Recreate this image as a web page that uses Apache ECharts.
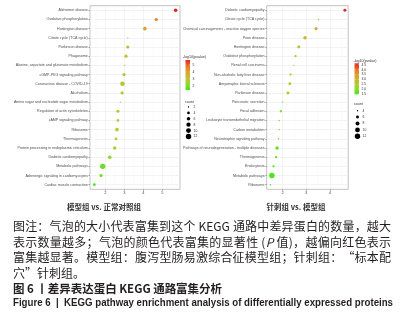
<!DOCTYPE html>
<html><head><meta charset="utf-8">
<script src="https://cdn.jsdelivr.net/npm/echarts@6/dist/echarts.min.js"></script>
<style>html,body{margin:0;padding:0;background:#fff}#c{width:406px;height:319px}</style>
</head><body><div id="c"></div>
<script>
// ---------- data ----------
const leftCategories = ["Alzheimer disease","Oxidative phosphorylation","Huntington disease","Citrate cycle (TCA cycle)","Parkinson disease","Phagosome","Alanine, aspartate and glutamate metabolism","cGMP-PKG signaling pathway","Coronavirus disease - COVID-19","Alcoholism","Amino sugar and nucleotide sugar metabolism","Regulation of actin cytoskeleton","cAMP signaling pathway","Ribosome","Thermogenesis","Protein processing in endoplasmic reticulum","Diabetic cardiomyopathy","Metabolic pathways","Adrenergic signaling in cardiomyocytes","Cardiac muscle contraction"];
const leftLogP = [5.70,4.68,4.08,3.18,3.18,3.09,3.02,2.98,2.90,2.88,2.79,2.66,2.66,2.61,2.56,2.49,2.23,1.86,1.77,1.42];
const leftCounts = [6,5,6,2,5,5,2,5,9,5,2,5,4,6,4,6,6,12,5,4];
const rightCategories = ["Diabetic cardiomyopathy","Citrate cycle (TCA cycle)","Chemical carcinogenesis - reactive oxygen species","Prion disease","Huntington disease","Oxidative phosphorylation","Renal cell carcinoma","Non-alcoholic fatty liver disease","Amyotrophic lateral sclerosis","Parkinson disease","Pancreatic secretion","Focal adhesion","Leukocyte transendothelial migration","Carbon metabolism","Neurotrophin signaling pathway","Pathways of neurodegeneration - multiple diseases","Thermogenesis","Endocytosis","Metabolic pathways","Ribosome"];
const rightLogP = [4.64,3.52,3.42,2.95,2.69,2.55,2.48,2.34,2.31,2.23,2.00,1.93,1.86,1.86,1.83,1.77,1.73,1.62,1.55,1.49];
const rightCounts = [6,4,6,7,6,5,4,5,6,6,4,5,4,4,4,7,5,5,12,4];
const leftXTicks = [2,3,4,5];
const leftXMinor = [1.5,2.5,3.5,4.5,5.5];
const rightXTicks = [2,3,4];
const rightXMinor = [1.5,2.5,3.5,4.5];
const leftColorTicks = [5,4,3,2];
const rightColorTicks = ["4.5","4.0","3.5","3.0","2.5","2.0","1.5"];
const leftCountTicks = [2,4,6,8,10,12];
const rightCountTicks = [4,6,8,10,12];
const leftSubtitle = "模型组 vs. 正常对照组";
const rightSubtitle = "针刺组 vs. 模型组";
const captionLines = [
  "图注：气泡的大小代表富集到这个 KEGG 通路中差异蛋白的数量，越大",
  "表示数量越多；气泡的颜色代表富集的显著性 (P 值)，越偏向红色表示",
  "富集越显著。模型组：腹泻型肠易激综合征模型组；针刺组：“标本配",
  "穴”针刺组。"
];
const figTitleCN = "图 6 丨差异表达蛋白 KEGG 通路富集分析";
const figTitleEN = "Figure 6  |  KEGG pathway enrichment analysis of differentially expressed proteins";
const legendTitleColor = "-log10(pvalue)";
const legendTitleSize = "count";

// ---------- styling ----------
const colorStops = ['#44e61c','#a3d42e','#d2b22f','#e8842b','#e6221f'];
const lab = '#4d4d4d';
function sizeFor(c, cmin, cmax){
  const dmin = 1.4, dmax = 5.4;
  return Math.sqrt(dmin*dmin + (c-cmin)/(cmax-cmin)*(dmax*dmax-dmin*dmin));
}
const lMin = Math.min(...leftLogP), lMax = Math.max(...leftLogP);
const rMin = Math.min(...rightLogP), rMax = Math.max(...rightLogP);
const lcMin = Math.min(...leftCounts), lcMax = Math.max(...leftCounts);
const rcMin = Math.min(...rightCounts), rcMax = Math.max(...rightCounts);

const chart = echarts.init(document.getElementById('c'), null, {renderer:'canvas'});

function xAxes(gridIndex, min, max, ticks, minor){
  return [{
    type:'value', gridIndex, min, max, position:'bottom',
    axisLine:{show:false},
    axisTick:{show:true, length:1.5, lineStyle:{color:'#555', width:0.5}, customValues:ticks},
    axisLabel:{show:true, fontSize:4, color:lab, margin:2, customValues:ticks, fontFamily:'Liberation Sans'},
    splitLine:{show:true, lineStyle:{color:'#ebebeb', width:0.6}}
  },{
    type:'value', gridIndex, min, max, position:'top',
    axisLine:{show:false},
    axisTick:{show:false, customValues:minor},
    axisLabel:{show:false},
    splitLine:{show:true, lineStyle:{color:'#f2f2f2', width:0.4}}
  }];
}
function yAxis(gridIndex, cats){
  return {
    type:'category', gridIndex, data:cats, inverse:true,
    axisLine:{show:false},
    axisTick:{show:true, alignWithLabel:true, length:1.5, lineStyle:{color:'#555', width:0.5}},
    axisLabel:{interval:0, fontSize:3.6, color:lab, margin:2.2, fontFamily:'Liberation Sans'},
    splitLine:{show:true, alignWithLabel:true, lineStyle:{color:'#ebebeb', width:0.6}}
  };
}

// justified text helper (caption)
const mctx = document.createElement('canvas').getContext('2d');
function textRow(str, x0, x1, y, font, justify, extra){
  const tokens = str.match(/[A-Za-z0-9.\-]+|\s+|./g);
  let size = font.size;
  const fontStr = (s) => (font.weight||'normal') + ' ' + s + 'px ' + font.family;
  mctx.font = fontStr(size);
  let widths = tokens.map(t => mctx.measureText(t).width);
  let natural = widths.reduce((a,b)=>a+b,0);
  const gap = justify && tokens.length>1 ? (x1 - x0 - natural)/(tokens.length-1) : 0;
  const els = [];
  let x = x0;
  tokens.forEach((t,i) => {
    if (!/^\s+$/.test(t)) {
      els.push({type:'text', x, y, silent:true, style:{
        text:t, font: (t==='P' && extra.italicP ? 'italic ' : '') + fontStr(size),
        fill: font.color, textVerticalAlign:'middle', textAlign:'left'
      }});
    }
    x += widths[i] + gap;
  });
  return els;
}
function squeezedRow(str, x0, x1, y, fontCss, color){
  mctx.font = fontCss;
  const w = mctx.measureText(str).width;
  return {type:'text', x:x0, y, silent:true, scaleX:(x1-x0)/w, originX:0, originY:0,
    style:{text:str, font:fontCss, fill:color, textVerticalAlign:'middle', textAlign:'left'}};
}

const graphics = [];
// subtitles
graphics.push({type:'text', x:104, y:207, silent:true, style:{text:leftSubtitle, font:'bold 7.5px "Noto Sans CJK SC"', fill:'#333', textAlign:'center', textVerticalAlign:'middle'}});
graphics.push({type:'text', x:296, y:207, silent:true, style:{text:rightSubtitle, font:'bold 7.5px "Noto Sans CJK SC"', fill:'#333', textAlign:'center', textVerticalAlign:'middle'}});
// caption
const capFont = {size:12, family:'"Noto Sans CJK SC"', color:'#231f20', weight:'normal'};
const capY = [226.5, 242.2, 257.7, 273.0];
captionLines.forEach((l,i) => {
  graphics.push(...textRow(l, 13, 391, capY[i], capFont, i<3, {italicP:true}));
});
graphics.push(...textRow(figTitleCN, 13, 222, 288.3, {size:11.5, family:'"Noto Sans CJK SC"', color:'#231f20', weight:'bold'}, true, {}));
graphics.push(squeezedRow(figTitleEN, 13, 393, 302.7, 'bold 10.5px "Liberation Sans"', '#231f20'));

// legends
function gradientLegend(x, y, w, h, lo, hi, ticks, titleY, titleX){
  graphics.push({type:'text', x:titleX, y:titleY, silent:true, style:{text:legendTitleColor, font:'3.6px "Liberation Sans"', fill:'#333', textVerticalAlign:'middle'}});
  graphics.push({type:'rect', silent:true, shape:{x, y, width:w, height:h}, style:{fill:new echarts.graphic.LinearGradient(0,1,0,0, colorStops.map((c,i)=>({offset:i/(colorStops.length-1), color:c})))}});
  ticks.forEach(t => {
    const v = parseFloat(t);
    const ty = y + (hi - v)/(hi - lo)*h;
    graphics.push({type:'line', silent:true, shape:{x1:x, y1:ty, x2:x+1, y2:ty}, style:{stroke:'#fff', lineWidth:0.4}});
    graphics.push({type:'line', silent:true, shape:{x1:x+w-1, y1:ty, x2:x+w, y2:ty}, style:{stroke:'#fff', lineWidth:0.4}});
    graphics.push({type:'text', x:x+w+2.5, y:ty, silent:true, style:{text:String(t), font:'3.4px "Liberation Sans"', fill:'#333', textVerticalAlign:'middle'}});
  });
}
function sizeLegend(x, titleY, startY, step, ticks, cmin, cmax){
  graphics.push({type:'text', x:x-3.5, y:titleY, silent:true, style:{text:legendTitleSize, font:'3.6px "Liberation Sans"', fill:'#333', textVerticalAlign:'middle'}});
  ticks.forEach((c,i) => {
    const cy = startY + i*step;
    graphics.push({type:'circle', silent:true, shape:{cx:x, cy, r:sizeFor(c,cmin,cmax)/2}, style:{fill:'#000'}});
    graphics.push({type:'text', x:x+5, y:cy, silent:true, style:{text:String(c), font:'3.4px "Liberation Sans"', fill:'#333', textVerticalAlign:'middle'}});
  });
}
gradientLegend(185.5, 60, 4.5, 30, lMin, lMax, leftColorTicks, 57, 183);
sizeLegend(188.5, 101.5, 107, 5.9, leftCountTicks, lcMin, lcMax);
gradientLegend(354.5, 63.3, 4.5, 31, rMin, rMax, rightColorTicks, 60.5, 353.5);
sizeLegend(357.5, 104, 110.7, 6.4, rightCountTicks, rcMin, rcMax);

const option = {
  backgroundColor:'#fff',
  animation:false,
  grid:[
    {left:90, top:5.7, width:90, height:183.6, show:true, borderColor:'#9a9a9a', borderWidth:0.6, backgroundColor:'transparent', containLabel:false, outerBoundsMode:'none'},
    {left:266.7, top:5.7, width:81.5, height:183.6, show:true, borderColor:'#9a9a9a', borderWidth:0.6, backgroundColor:'transparent', containLabel:false, outerBoundsMode:'none'}
  ],
  xAxis:[...xAxes(0, 1.19, 5.93, leftXTicks, leftXMinor), ...xAxes(1, 1.33, 4.78, rightXTicks, rightXMinor)],
  yAxis:[yAxis(0, leftCategories), yAxis(1, rightCategories)],
  visualMap:[
    {type:'continuous', show:false, seriesIndex:0, dimension:0, min:lMin, max:lMax, inRange:{color:colorStops}},
    {type:'continuous', show:false, seriesIndex:1, dimension:0, min:rMin, max:rMax, inRange:{color:colorStops}}
  ],
  series:[
    {type:'scatter', xAxisIndex:0, yAxisIndex:0,
     data:leftCategories.map((c,i)=>[leftLogP[i], c, leftCounts[i]]),
     symbolSize:d=>sizeFor(d[2], lcMin, lcMax), itemStyle:{opacity:1}},
    {type:'scatter', xAxisIndex:2, yAxisIndex:1,
     data:rightCategories.map((c,i)=>[rightLogP[i], c, rightCounts[i]]),
     symbolSize:d=>sizeFor(d[2], rcMin, rcMax), itemStyle:{opacity:1}}
  ],
  graphic:graphics
};
chart.setOption(option);
</script></body></html>
